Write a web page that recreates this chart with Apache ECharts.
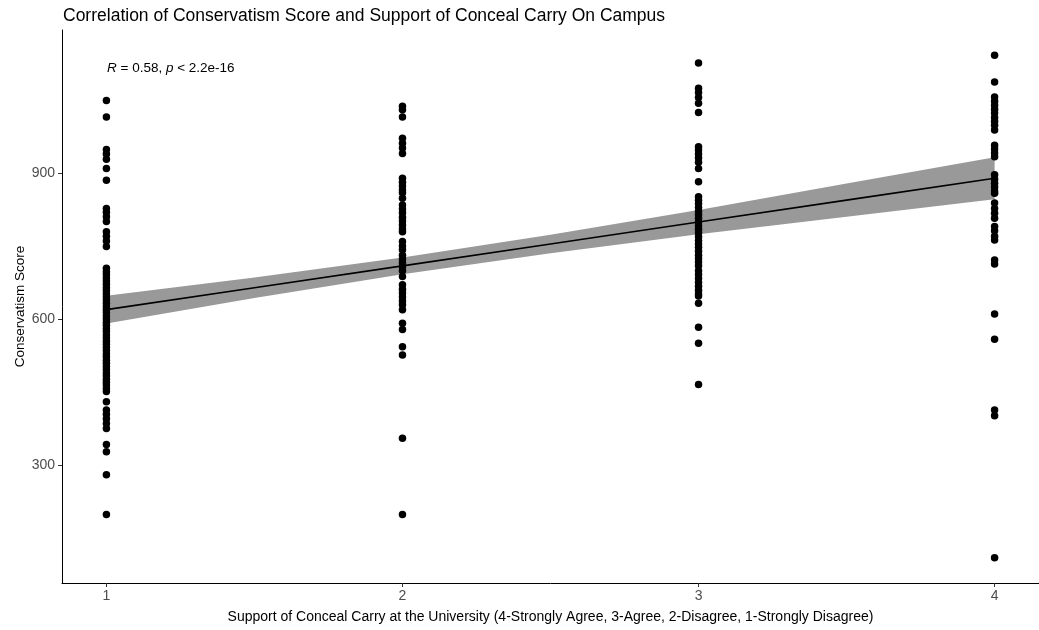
<!DOCTYPE html>
<html>
<head>
<meta charset="utf-8">
<script src="https://cdn.jsdelivr.net/npm/echarts@6/dist/echarts.min.js"></script>
<style>
  html, body { margin: 0; padding: 0; background: #ffffff; }
  #chart { width: 1039px; height: 630px; }
</style>
</head>
<body>
<div id="chart"></div>
<script>
// Support levels on the x axis and their tick labels
var supportLevels = [1, 2, 3, 4];
var yTickValues = [300, 600, 900];

// Conservatism scores of respondents at each support level
var scoresLevel1 = [1050, 1016, 949, 940, 929, 910, 886, 828, 820, 811, 801, 780, 771, 761, 750,
  705, 698, 692, 685, 679, 672, 665, 659, 652, 646, 640, 633, 626, 620, 614, 607, 601, 594, 588,
  581, 575, 568, 562, 555, 549, 542, 536, 529, 523, 516, 510, 503, 497, 490, 484, 477, 471, 465,
  458, 452, 431, 414, 405, 396, 386, 376, 343, 328, 281, 199];
var scoresLevel2 = [1038, 1031, 1016, 972, 962, 952, 941, 890, 882, 874, 866, 860, 849, 835, 827,
  819, 810, 802, 794, 786, 780, 760, 751, 743, 732, 724, 716, 708, 700, 688, 671, 662, 654, 646,
  638, 630, 620, 592, 579, 544, 527, 356, 199];
var scoresLevel3 = [1127, 1075, 1066, 1056, 1044, 1025, 955, 948, 940, 932, 923, 910, 883, 852,
  845, 838, 830, 822, 815, 808, 800, 792, 785, 778, 770, 762, 755, 748, 740, 732, 725, 718, 710,
  700, 692, 684, 676, 668, 660, 652, 648, 633, 584, 551, 466];
var scoresLevel4 = [1143, 1088, 1057, 1048, 1040, 1032, 1024, 1015, 1007, 999, 989, 958, 950, 942,
  934, 897, 888, 880, 872, 864, 859, 839, 828, 818, 808, 791, 782, 771, 763, 722, 714, 611, 559,
  414, 402, 110];

// Linear fit with its 95% confidence band
var fitX = [1, 1.5, 2, 2.5, 3, 3.5, 4];
var fitY = [620, 665, 710, 755, 800, 845, 890];
var fitLower = [591.5, 644, 693, 736, 775, 811, 847];
var fitUpper = [648.5, 686, 727, 774, 825, 879, 933];

var scoreGroups = [scoresLevel1, scoresLevel2, scoresLevel3, scoresLevel4];
var points = [];
scoreGroups.forEach(function (group, i) {
  group.forEach(function (v) { points.push([supportLevels[i], v]); });
});
var fitLine = fitX.map(function (x, i) { return [x, fitY[i]]; });
var bandData = fitX.map(function (x, i) { return [x, fitLower[i], fitUpper[i]]; });

var FONT = '"Liberation Sans", Arial, sans-serif';

var chart = echarts.init(document.getElementById('chart'), null, { renderer: 'canvas' });
chart.setOption({
  backgroundColor: '#ffffff',
  animation: false,
  title: {
    text: 'Correlation of Conservatism Score and Support of Conceal Carry On Campus',
    left: 58,
    top: 2,
    textStyle: { fontFamily: FONT, fontSize: 17.5, fontWeight: 'normal', color: '#000000' }
  },
  grid: { left: 62, right: -1, top: 30, bottom: 47, containLabel: false },
  xAxis: {
    type: 'value',
    min: 0.85,
    max: 4.15,
    name: 'Support of Conceal Carry at the University (4-Strongly Agree, 3-Agree, 2-Disagree, 1-Strongly Disagree)',
    nameLocation: 'middle',
    nameGap: 27,
    nameMoveOverlap: false,
    nameTextStyle: { fontFamily: FONT, fontSize: 14, color: '#000000' },
    splitLine: { show: false },
    axisLine: { show: true, onZero: false, lineStyle: { color: '#000000', width: 1 } },
    axisTick: { show: true, length: 4, customValues: supportLevels, lineStyle: { color: '#333333' } },
    axisLabel: {
      customValues: supportLevels,
      margin: 6,
      fontFamily: FONT, fontSize: 14, color: '#4d4d4d'
    }
  },
  yAxis: {
    type: 'value',
    min: 58.35,
    max: 1194.65,
    name: 'Conservatism Score',
    nameLocation: 'middle',
    nameGap: 35,
    nameMoveOverlap: false,
    nameTextStyle: { fontFamily: FONT, fontSize: 13.5, color: '#000000' },
    splitLine: { show: false },
    axisLine: { show: true, onZero: false, lineStyle: { color: '#000000', width: 1 } },
    axisTick: { show: true, length: 4, customValues: yTickValues, lineStyle: { color: '#333333' } },
    axisLabel: {
      customValues: yTickValues,
      margin: 7,
      fontFamily: FONT, fontSize: 14, color: '#4d4d4d'
    }
  },
  graphic: [{
    type: 'text',
    left: 107,
    top: 61,
    style: {
      text: '{i|R} = 0.58, {i|p} < 2.2e-16',
      rich: {
        i: { fontStyle: 'italic', fontFamily: FONT, fontSize: 13.5, fill: '#000000' }
      },
      font: '13.5px ' + FONT,
      fill: '#000000'
    }
  }],
  series: [
    {
      // confidence band polygon
      type: 'custom',
      z: 1,
      data: bandData,
      encode: { x: 0, y: [1, 2] },
      renderItem: function (params, api) {
        if (params.dataIndex !== 0) return null;
        var upper = [], lower = [];
        for (var i = 0; i < bandData.length; i++) {
          upper.push(api.coord([bandData[i][0], bandData[i][2]]));
          lower.push(api.coord([bandData[i][0], bandData[i][1]]));
        }
        return {
          type: 'polygon',
          shape: { points: upper.concat(lower.reverse()) },
          style: { fill: '#999999' }
        };
      },
      silent: true
    },
    {
      type: 'line',
      z: 2,
      data: fitLine,
      symbol: 'none',
      lineStyle: { color: '#000000', width: 1.6 },
      silent: true
    },
    {
      type: 'scatter',
      z: 3,
      data: points,
      symbol: 'circle',
      symbolSize: 7.5,
      itemStyle: { color: '#000000', opacity: 1 },
      silent: true
    }
  ]
});
</script>
</body>
</html>
